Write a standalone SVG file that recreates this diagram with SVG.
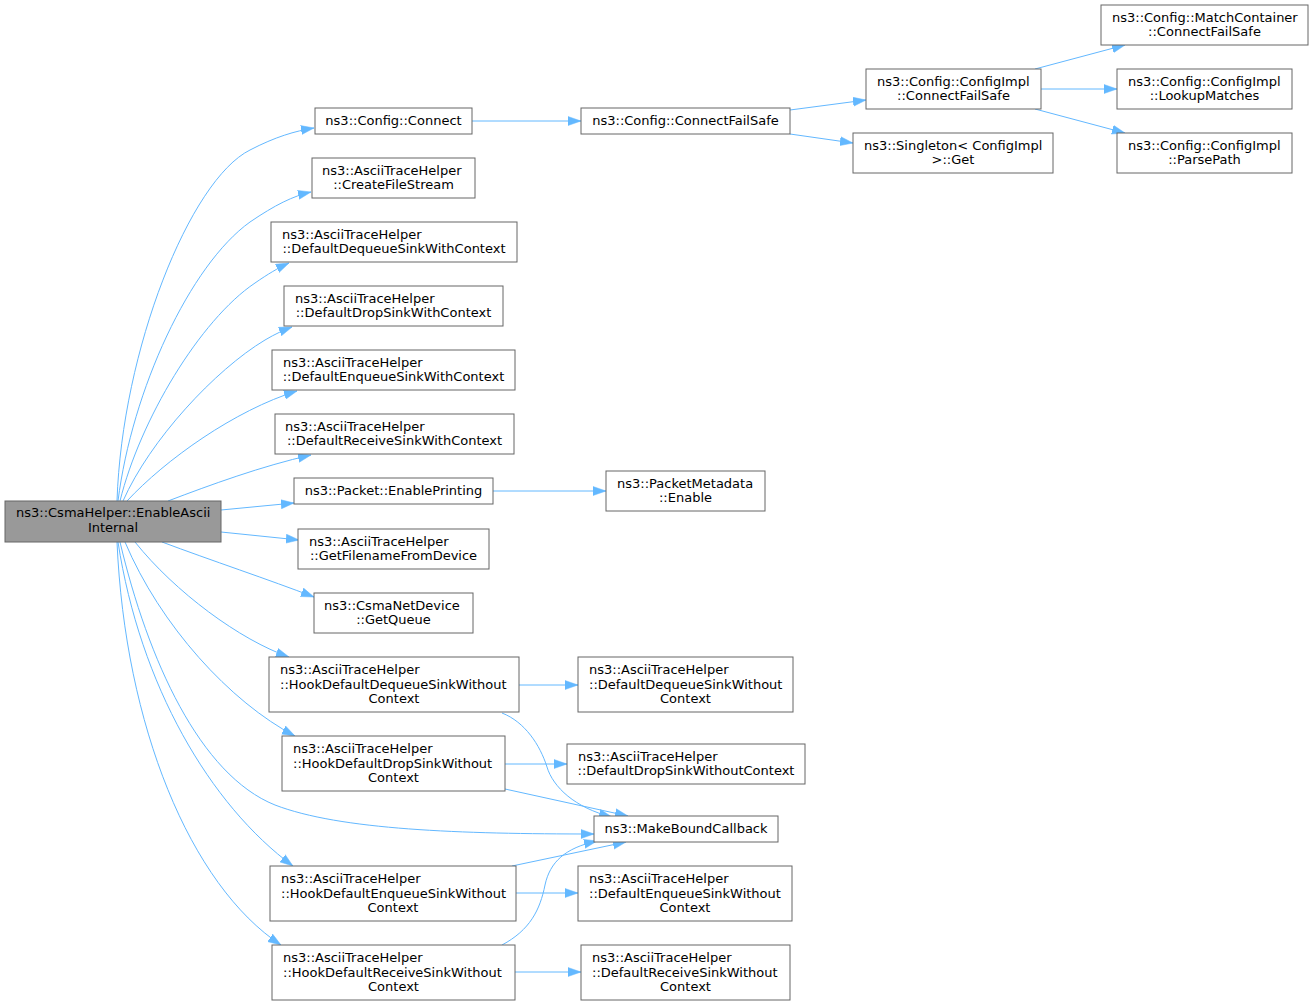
<svg xmlns="http://www.w3.org/2000/svg" width="1313" height="1006" viewBox="0 0 1313 1006">
<style>
.n rect{fill:#ffffff;stroke:#666666;stroke-width:1}
.main rect{fill:#999999;stroke:#666666;stroke-width:1}
text{font-family:"DejaVu Sans","Liberation Sans",sans-serif;font-size:13px;fill:#000000}
.c{text-anchor:middle}
.e path{fill:none;stroke:#63b8ff;stroke-width:1;marker-end:url(#ah)}
</style>
<defs>
<marker id="ah" markerUnits="userSpaceOnUse" markerWidth="13" markerHeight="10" refX="13" refY="5" orient="auto">
<path d="M0,0.5 L13,5 L0,9.5 z" fill="#63b8ff" stroke="#63b8ff" stroke-width="0.5"/>
</marker>
</defs>
<rect width="1313" height="1006" fill="#ffffff"/>
<g class="e" id="edges">
<path d="M117,501 C122,350 190,180 250,150 C275,137 295,131 314,128"/>
<path d="M118,501 C132,390 190,265 250,222 C275,205 293,196 311,192"/>
<path d="M120,501 C140,420 200,320 255,283 C268,274 278,268 289,263"/>
<path d="M123,501 C150,440 215,370 265,340 C275,334 284,330 292,327"/>
<path d="M127,501 C165,460 235,410 297,391"/>
<path d="M168,501 C210,485 262,466 311,455"/>
<path d="M221,510 L294,503"/>
<path d="M221,532 L299,540"/>
<path d="M162,542 C210,560 270,580 314,597"/>
<path d="M135,542 C175,592 240,640 289,657"/>
<path d="M125,542 C160,625 230,702 295,736"/>
<path d="M120,542 C148,660 200,775 275,805 C340,830 460,834 594,834"/>
<path d="M118,542 C140,685 210,805 293,866"/>
<path d="M117,542 C125,725 190,885 281,945"/>
<path d="M472,121 L581,121"/>
<path d="M790,110 L866,100"/>
<path d="M790,134 L853,143"/>
<path d="M1035,69 L1125,45"/>
<path d="M1041,89 L1117,89"/>
<path d="M1035,109 L1125,133"/>
<path d="M493,491 L606,491"/>
<path d="M519,685 L578,685"/>
<path d="M502,713 C525,722 540,745 547,767 C553,787 575,808 612,817"/>
<path d="M505,764 L567,764"/>
<path d="M505,789 L628,816"/>
<path d="M512,866 L626,842"/>
<path d="M502,945 C530,930 540,910 545,885 C550,862 565,848 597,841"/>
<path d="M516,893 L578,893"/>
<path d="M515,972 L581,972"/>
</g>
<g id="node_main" class="main"><rect x="5" y="501" width="216" height="41"/><text x="16" y="517">ns3::CsmaHelper::EnableAscii</text><text class="c" x="113" y="532">Internal</text></g>
<g id="node_connect" class="n"><rect x="315" y="108" width="157" height="26"/><text class="c" x="393.5" y="125">ns3::Config::Connect</text></g>
<g id="node_createfilestream" class="n"><rect x="312" y="158" width="163" height="40"/><text x="322" y="175">ns3::AsciiTraceHelper</text><text class="c" x="393.5" y="189">::CreateFileStream</text></g>
<g id="node_defdeqctx" class="n"><rect x="271" y="222" width="246" height="40"/><text x="282" y="239">ns3::AsciiTraceHelper</text><text class="c" x="394" y="253">::DefaultDequeueSinkWithContext</text></g>
<g id="node_defdropctx" class="n"><rect x="284" y="286" width="219" height="40"/><text x="295" y="303">ns3::AsciiTraceHelper</text><text class="c" x="393.5" y="317">::DefaultDropSinkWithContext</text></g>
<g id="node_defenqctx" class="n"><rect x="272" y="350" width="243" height="40"/><text x="283" y="367">ns3::AsciiTraceHelper</text><text class="c" x="393.5" y="381">::DefaultEnqueueSinkWithContext</text></g>
<g id="node_defrcvctx" class="n"><rect x="275" y="414" width="239" height="40"/><text x="285" y="431">ns3::AsciiTraceHelper</text><text class="c" x="394.5" y="445">::DefaultReceiveSinkWithContext</text></g>
<g id="node_enableprinting" class="n"><rect x="294" y="478" width="199" height="26"/><text class="c" x="393.5" y="495">ns3::Packet::EnablePrinting</text></g>
<g id="node_getfilename" class="n"><rect x="298" y="529" width="191" height="40"/><text x="309" y="546">ns3::AsciiTraceHelper</text><text class="c" x="393.5" y="560">::GetFilenameFromDevice</text></g>
<g id="node_getqueue" class="n"><rect x="314" y="593" width="159" height="40"/><text x="324" y="610">ns3::CsmaNetDevice</text><text class="c" x="393.5" y="624">::GetQueue</text></g>
<g id="node_hookdeq" class="n"><rect x="269" y="657" width="250" height="55"/><text x="280" y="674">ns3::AsciiTraceHelper</text><text x="280" y="689">::HookDefaultDequeueSinkWithout</text><text class="c" x="394" y="703">Context</text></g>
<g id="node_hookdrop" class="n"><rect x="282" y="736" width="223" height="55"/><text x="293" y="753">ns3::AsciiTraceHelper</text><text x="293" y="768">::HookDefaultDropSinkWithout</text><text class="c" x="393.5" y="782">Context</text></g>
<g id="node_hookenq" class="n"><rect x="270" y="866" width="246" height="55"/><text x="281" y="883">ns3::AsciiTraceHelper</text><text x="281" y="898">::HookDefaultEnqueueSinkWithout</text><text class="c" x="393" y="912">Context</text></g>
<g id="node_hookrcv" class="n"><rect x="272" y="945" width="243" height="55"/><text x="283" y="962">ns3::AsciiTraceHelper</text><text x="283" y="977">::HookDefaultReceiveSinkWithout</text><text class="c" x="393.5" y="991">Context</text></g>
<g id="node_connectfailsafe" class="n"><rect x="581" y="108" width="209" height="26"/><text class="c" x="685.5" y="125">ns3::Config::ConnectFailSafe</text></g>
<g id="node_pktmeta" class="n"><rect x="606" y="471" width="159" height="40"/><text x="617" y="488">ns3::PacketMetadata</text><text class="c" x="685.5" y="502">::Enable</text></g>
<g id="node_defdeqnoctx" class="n"><rect x="578" y="657" width="215" height="55"/><text x="589" y="674">ns3::AsciiTraceHelper</text><text x="589" y="689">::DefaultDequeueSinkWithout</text><text class="c" x="685.5" y="703">Context</text></g>
<g id="node_defdropnoctx" class="n"><rect x="567" y="744" width="238" height="40"/><text x="578" y="761">ns3::AsciiTraceHelper</text><text class="c" x="686" y="775">::DefaultDropSinkWithoutContext</text></g>
<g id="node_makebound" class="n"><rect x="594" y="816" width="184" height="26"/><text class="c" x="686" y="833">ns3::MakeBoundCallback</text></g>
<g id="node_defenqnoctx" class="n"><rect x="578" y="866" width="214" height="55"/><text x="589" y="883">ns3::AsciiTraceHelper</text><text x="589" y="898">::DefaultEnqueueSinkWithout</text><text class="c" x="685" y="912">Context</text></g>
<g id="node_defrcvnoctx" class="n"><rect x="581" y="945" width="209" height="55"/><text x="592" y="962">ns3::AsciiTraceHelper</text><text x="592" y="977">::DefaultReceiveSinkWithout</text><text class="c" x="685.5" y="991">Context</text></g>
<g id="node_implconnect" class="n"><rect x="866" y="69" width="175" height="40"/><text x="877" y="86">ns3::Config::ConfigImpl</text><text class="c" x="953.5" y="100">::ConnectFailSafe</text></g>
<g id="node_singleton" class="n"><rect x="853" y="133" width="200" height="40"/><text x="864" y="150">ns3::Singleton&lt; ConfigImpl</text><text class="c" x="953" y="164">&gt;::Get</text></g>
<g id="node_matchcontainer" class="n"><rect x="1101" y="5" width="207" height="40"/><text x="1112" y="22">ns3::Config::MatchContainer</text><text class="c" x="1204.5" y="36">::ConnectFailSafe</text></g>
<g id="node_lookup" class="n"><rect x="1117" y="69" width="175" height="40"/><text x="1128" y="86">ns3::Config::ConfigImpl</text><text class="c" x="1204.5" y="100">::LookupMatches</text></g>
<g id="node_parsepath" class="n"><rect x="1117" y="133" width="175" height="40"/><text x="1128" y="150">ns3::Config::ConfigImpl</text><text class="c" x="1204.5" y="164">::ParsePath</text></g>
</svg>
